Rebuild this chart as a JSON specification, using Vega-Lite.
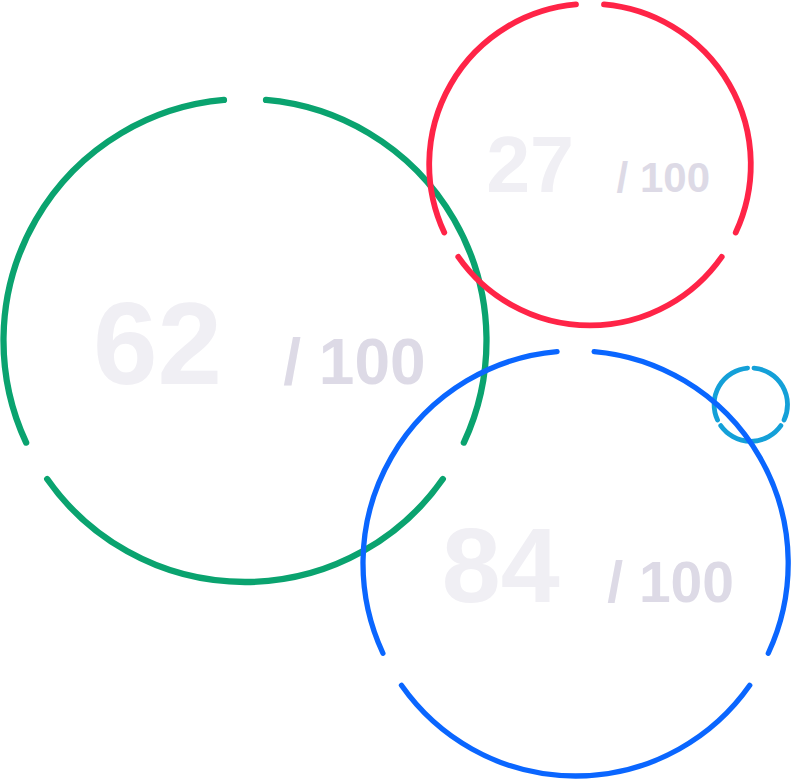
{
  "$schema": "https://vega.github.io/schema/vega-lite/v6.json",
  "width": 793,
  "height": 781,
  "padding": 0,
  "autosize": {"type": "fit", "contains": "padding"},
  "background": "#ffffff",
  "config": {"view": {"stroke": null}},
  "datasets": {
    "gauges": [
      {"id": "A", "score": 62, "max": 100, "cx": 245, "cy": 340.5, "r": 241.5},
      {"id": "B", "score": 27, "max": 100, "cx": 590, "cy": 164.6, "r": 160.8},
      {"id": "C", "score": 84, "max": 100, "cx": 575.6, "cy": 563.4, "r": 212.6},
      {"id": "D", "score": null, "max": 100, "cx": 750.8, "cy": 404.6, "r": 36.7}
    ],
    "segments": [
      {"id": "D", "a0": 5, "a1": 115},
      {"id": "D", "a0": 125, "a1": 235},
      {"id": "D", "a0": 245, "a1": 355},
      {"id": "A", "a0": 5, "a1": 115},
      {"id": "A", "a0": 125, "a1": 235},
      {"id": "A", "a0": 245, "a1": 355},
      {"id": "B", "a0": 5, "a1": 115},
      {"id": "B", "a0": 125, "a1": 235},
      {"id": "B", "a0": 245, "a1": 355},
      {"id": "C", "a0": 5, "a1": 115},
      {"id": "C", "a0": 125, "a1": 235},
      {"id": "C", "a0": 245, "a1": 355}
    ]
  },
  "data": {"name": "gauges"},
  "encoding": {
    "x": {"field": "cx", "type": "quantitative", "scale": {"domain": [0, 793], "nice": false, "zero": false}, "axis": null},
    "y": {"field": "cy", "type": "quantitative", "scale": {"domain": [0, 781], "reverse": true, "nice": false, "zero": false}, "axis": null}
  },
  "layer": [
    {
      "data": {"name": "segments"},
      "transform": [
        {"lookup": "id", "from": {"data": {"name": "gauges"}, "key": "id", "fields": ["cx", "cy", "r"]}}
      ],
      "mark": {"type": "arc", "filled": false, "strokeJoin": "round", "strokeCap": "round"},
      "encoding": {
        "theta": {"field": "a0", "type": "quantitative", "stack": null, "scale": {"domain": [0, 360], "range": [0, 6.283185307]}},
        "theta2": {"field": "a1"},
        "radius": {"field": "r", "type": "quantitative", "scale": {"type": "linear", "domain": [0, 100], "range": [0, 100], "zero": true}},
        "radius2": {"field": "r"},
        "color": {"field": "id", "type": "nominal", "scale": {"domain": ["A", "B", "C", "D"], "range": ["#0aa36f", "#ff2447", "#0a66ff", "#14a0d8"]}, "legend": null},
        "strokeWidth": {"field": "id", "type": "ordinal", "scale": {"domain": ["A", "B", "C", "D"], "range": [6.3, 4.8, 5.8, 4.3]}, "legend": null}
      }
    },
    {
      "transform": [{"filter": "datum.id === 'A'"}],
      "mark": {"type": "text", "align": "right", "baseline": "alphabetic", "dx": -23, "dy": 43, "fontSize": 116, "font": "Liberation Sans", "fontWeight": "bold", "color": "#f0eff4"},
      "encoding": {"text": {"field": "score", "type": "quantitative"}}
    },
    {
      "transform": [{"filter": "datum.id === 'A'"}],
      "mark": {"type": "text", "align": "right", "baseline": "alphabetic", "dx": 180.6, "dy": 43, "fontSize": 64, "font": "Liberation Sans", "fontWeight": "bold", "color": "#dddae6", "text": "/ 100"}
    },
    {
      "transform": [{"filter": "datum.id === 'B'"}],
      "mark": {"type": "text", "align": "right", "baseline": "alphabetic", "dx": -16, "dy": 27.1, "fontSize": 79, "font": "Liberation Sans", "fontWeight": "bold", "color": "#f0eff4"},
      "encoding": {"text": {"field": "score", "type": "quantitative"}}
    },
    {
      "transform": [{"filter": "datum.id === 'B'"}],
      "mark": {"type": "text", "align": "right", "baseline": "alphabetic", "dx": 120, "dy": 27.1, "fontSize": 42, "font": "Liberation Sans", "fontWeight": "bold", "color": "#dddae6", "text": "/ 100"}
    },
    {
      "transform": [{"filter": "datum.id === 'C'"}],
      "mark": {"type": "text", "align": "right", "baseline": "alphabetic", "dx": -16, "dy": 39, "fontSize": 106, "font": "Liberation Sans", "fontWeight": "bold", "color": "#f0eff4"},
      "encoding": {"text": {"field": "score", "type": "quantitative"}}
    },
    {
      "transform": [{"filter": "datum.id === 'C'"}],
      "mark": {"type": "text", "align": "right", "baseline": "alphabetic", "dx": 158.4, "dy": 39, "fontSize": 57, "font": "Liberation Sans", "fontWeight": "bold", "color": "#dddae6", "text": "/ 100"}
    }
  ]
}
